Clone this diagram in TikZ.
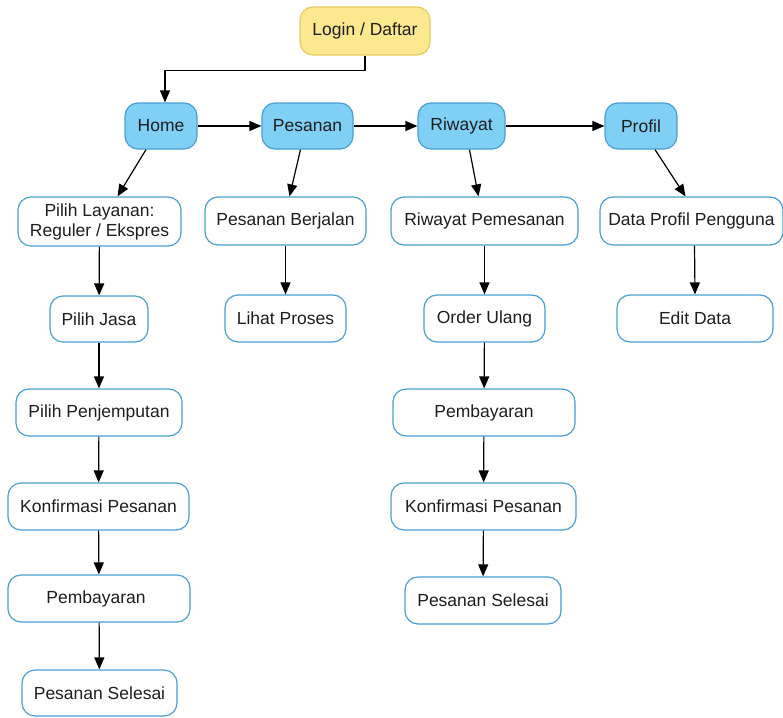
\documentclass[tikz,border=0pt]{standalone}
\usepackage{fontspec}
\setmainfont{Liberation Sans}
\usetikzlibrary{arrows.meta}
\definecolor{ylfill}{HTML}{FCE88E}
\definecolor{yldraw}{HTML}{E9C963}
\definecolor{blfill}{HTML}{80CFF5}
\definecolor{bldraw}{HTML}{4A9FD2}
\definecolor{txt}{HTML}{1E1E1E}
\tikzset{
  box/.style={draw=bldraw, line width=1.2pt, rounded corners=13pt, fill=white,
    inner sep=0pt, align=center, text=txt, font=\fontsize{17.5}{20}\selectfont},
  topbox/.style={box, fill=blfill},
  loginbox/.style={box, fill=ylfill, draw=yldraw},
  arr/.style={-{Triangle[length=12pt,width=10pt]}, line width=1.2pt, black}
}
\begin{document}
\begin{tikzpicture}[x=1pt,y=-1pt]
\useasboundingbox (0,0) rectangle (783,717);
% top
\node[loginbox, minimum width=130pt, minimum height=48pt] (login) at (365,31) {Login / Daftar};
\node[topbox, minimum width=72pt, minimum height=46pt] (home) at (161,126) {Home};
\node[topbox, minimum width=91pt, minimum height=46pt] (pesanan) at (307.5,126) {Pesanan};
\node[topbox, minimum width=87pt, minimum height=46pt] (riwayat) at (461.5,126) {Riwayat};
\node[topbox, minimum width=72pt, minimum height=46pt] (profil) at (641,126) {Profil};
% column 1
\node[box, minimum width=163pt, minimum height=49pt] (layanan) at (99.5,221.5) {Pilih Layanan:\\Reguler / Ekspres};
\node[box, minimum width=98pt, minimum height=46pt] (jasa) at (99,319) {Pilih Jasa};
\node[box, minimum width=166pt, minimum height=47pt] (jemput) at (99,412.5) {Pilih Penjemputan};
\node[box, minimum width=181pt, minimum height=47pt] (konf1) at (98.5,506.5) {Konfirmasi Pesanan};
\node[box, minimum width=182pt, minimum height=47pt] (bayar1) at (99,598.5) {Pembayaran\hspace*{6pt}};
\node[box, minimum width=155pt, minimum height=46pt] (selesai1) at (99.5,693) {Pesanan Selesai};
% column 2
\node[box, minimum width=161pt, minimum height=48pt] (berjalan) at (285.5,221) {Pesanan Berjalan};
\node[box, minimum width=121pt, minimum height=47pt] (proses) at (285.5,318.5) {Lihat Proses};
% column 3
\node[box, minimum width=187pt, minimum height=48pt] (rpesan) at (484.5,221) {Riwayat Pemesanan};
\node[box, minimum width=121pt, minimum height=47pt] (order) at (484.5,318.5) {Order Ulang};
\node[box, minimum width=182pt, minimum height=47pt] (bayar2) at (484,412.5) {Pembayaran};
\node[box, minimum width=185pt, minimum height=47pt] (konf2) at (483.5,506.5) {Konfirmasi Pesanan};
\node[box, minimum width=156pt, minimum height=47pt] (selesai2) at (483,600.5) {Pesanan Selesai};
% column 4
\node[box, minimum width=183pt, minimum height=48pt] (dataprof) at (691.5,221) {Data Profil Pengguna};
\node[box, minimum width=156pt, minimum height=47pt] (edit) at (695,318.5) {Edit Data};
% connectors
\draw[arr] (login.south) -- ++(0,15) -| ([xshift=4pt]home.north);
\draw[arr] (home) -- (pesanan);
\draw[arr] (pesanan) -- (riwayat);
\draw[arr] (riwayat) -- (profil);
\draw[arr] ([xshift=-15pt]home.south) -- ([xshift=18pt]layanan.north);
\draw[arr] ([xshift=-7pt]pesanan.south) -- ([xshift=4pt]berjalan.north);
\draw[arr] ([xshift=8pt]riwayat.south) -- ([xshift=-6pt]rpesan.north);
\draw[arr] ([xshift=14pt]profil.south) -- ([xshift=-6pt]dataprof.north);
\draw[arr] (layanan) -- (jasa);
\draw[arr] (jasa) -- (jemput);
\draw[arr] (jemput) -- (konf1);
\draw[arr] (konf1) -- (bayar1);
\draw[arr] (bayar1) -- (selesai1);
\draw[arr] (berjalan) -- (proses);
\draw[arr] (rpesan) -- (order);
\draw[arr] (order) -- (bayar2);
\draw[arr] (bayar2) -- (konf2);
\draw[arr] (konf2) -- (selesai2);
\draw[arr] ([xshift=3pt]dataprof.south) -- ([xshift=0pt]edit.north);
\end{tikzpicture}
\end{document}
